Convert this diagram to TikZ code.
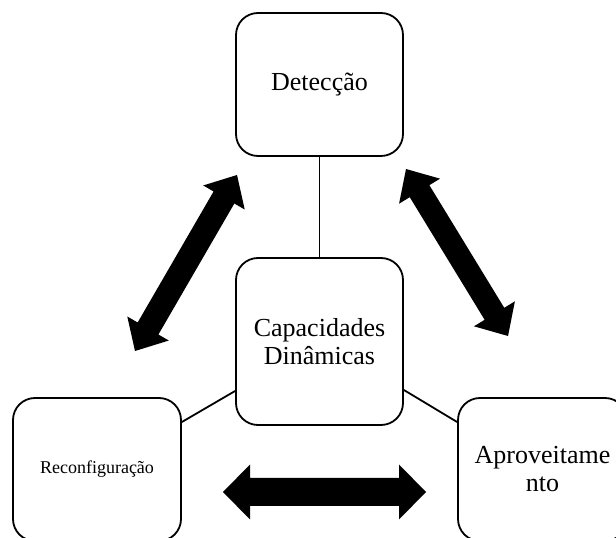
\documentclass[tikz,border=0pt]{standalone}
\usepackage{fontspec}
\setmainfont{Liberation Serif}
\usetikzlibrary{calc}
\tikzset{
  box/.style={draw, line width=1.8pt, rounded corners=22pt, align=center, inner sep=2pt,
              font=\fontsize{26}{28}\selectfont},
  conn/.style={line width=1.8pt},
}
\newcommand\myDblArrow[5]{%
  \coordinate (ha) at ($(#1)!#3!(#2)$);
  \coordinate (hb) at ($(#2)!#3!(#1)$);
  \fill (#1) -- ($(ha)!#4!90:(#2)$) -- ($(ha)!#5!90:(#2)$) -- ($(hb)!#5!-90:(#1)$)
    -- ($(hb)!#4!-90:(#1)$) -- (#2) -- ($(hb)!#4!90:(#1)$) -- ($(hb)!#5!90:(#1)$)
    -- ($(ha)!#5!-90:(#2)$) -- ($(ha)!#4!-90:(#2)$) -- cycle;
}
\begin{document}
\begin{tikzpicture}[x=1pt,y=1pt]
\useasboundingbox (0,0) rectangle (616,538);
\clip (0,0) rectangle (616,538);
\node[box, minimum width=167pt, minimum height=143pt] (det) at (319.5,453.5) {Detecção};
\node[box, minimum width=167pt, minimum height=167pt] (cap) at (319.5,196.5) {Capacidades\\Dinâmicas};
\node[box, minimum width=168pt, minimum height=143pt, font=\fontsize{18}{20}\selectfont] (rec) at (97,68.5) {Reconfiguração};
\node[box, minimum width=169pt, minimum height=143pt] (apr) at (542.5,68.5) {Aproveitame\\nto};
\draw[conn] (det.south) -- (cap.north);
\draw[conn] ($(cap.west)+(0,-49.5)$) -- ($(rec.east)+(0,47.5)$);
\draw[conn] ($(cap.east)+(0,-48.5)$) -- ($(apr.west)+(0,47.5)$);
\coordinate (h1) at (223,46);
\coordinate (h2) at (426,46);
\coordinate (l1) at (135,187);
\coordinate (l2) at (237,363);
\coordinate (r1) at (406,369);
\coordinate (r2) at (508,202);
\myDblArrow{h1}{h2}{27pt}{27.5pt}{14pt}
\myDblArrow{l1}{l2}{26pt}{24pt}{12pt}
\myDblArrow{r1}{r2}{26pt}{24pt}{11.5pt}
\end{tikzpicture}
\end{document}
